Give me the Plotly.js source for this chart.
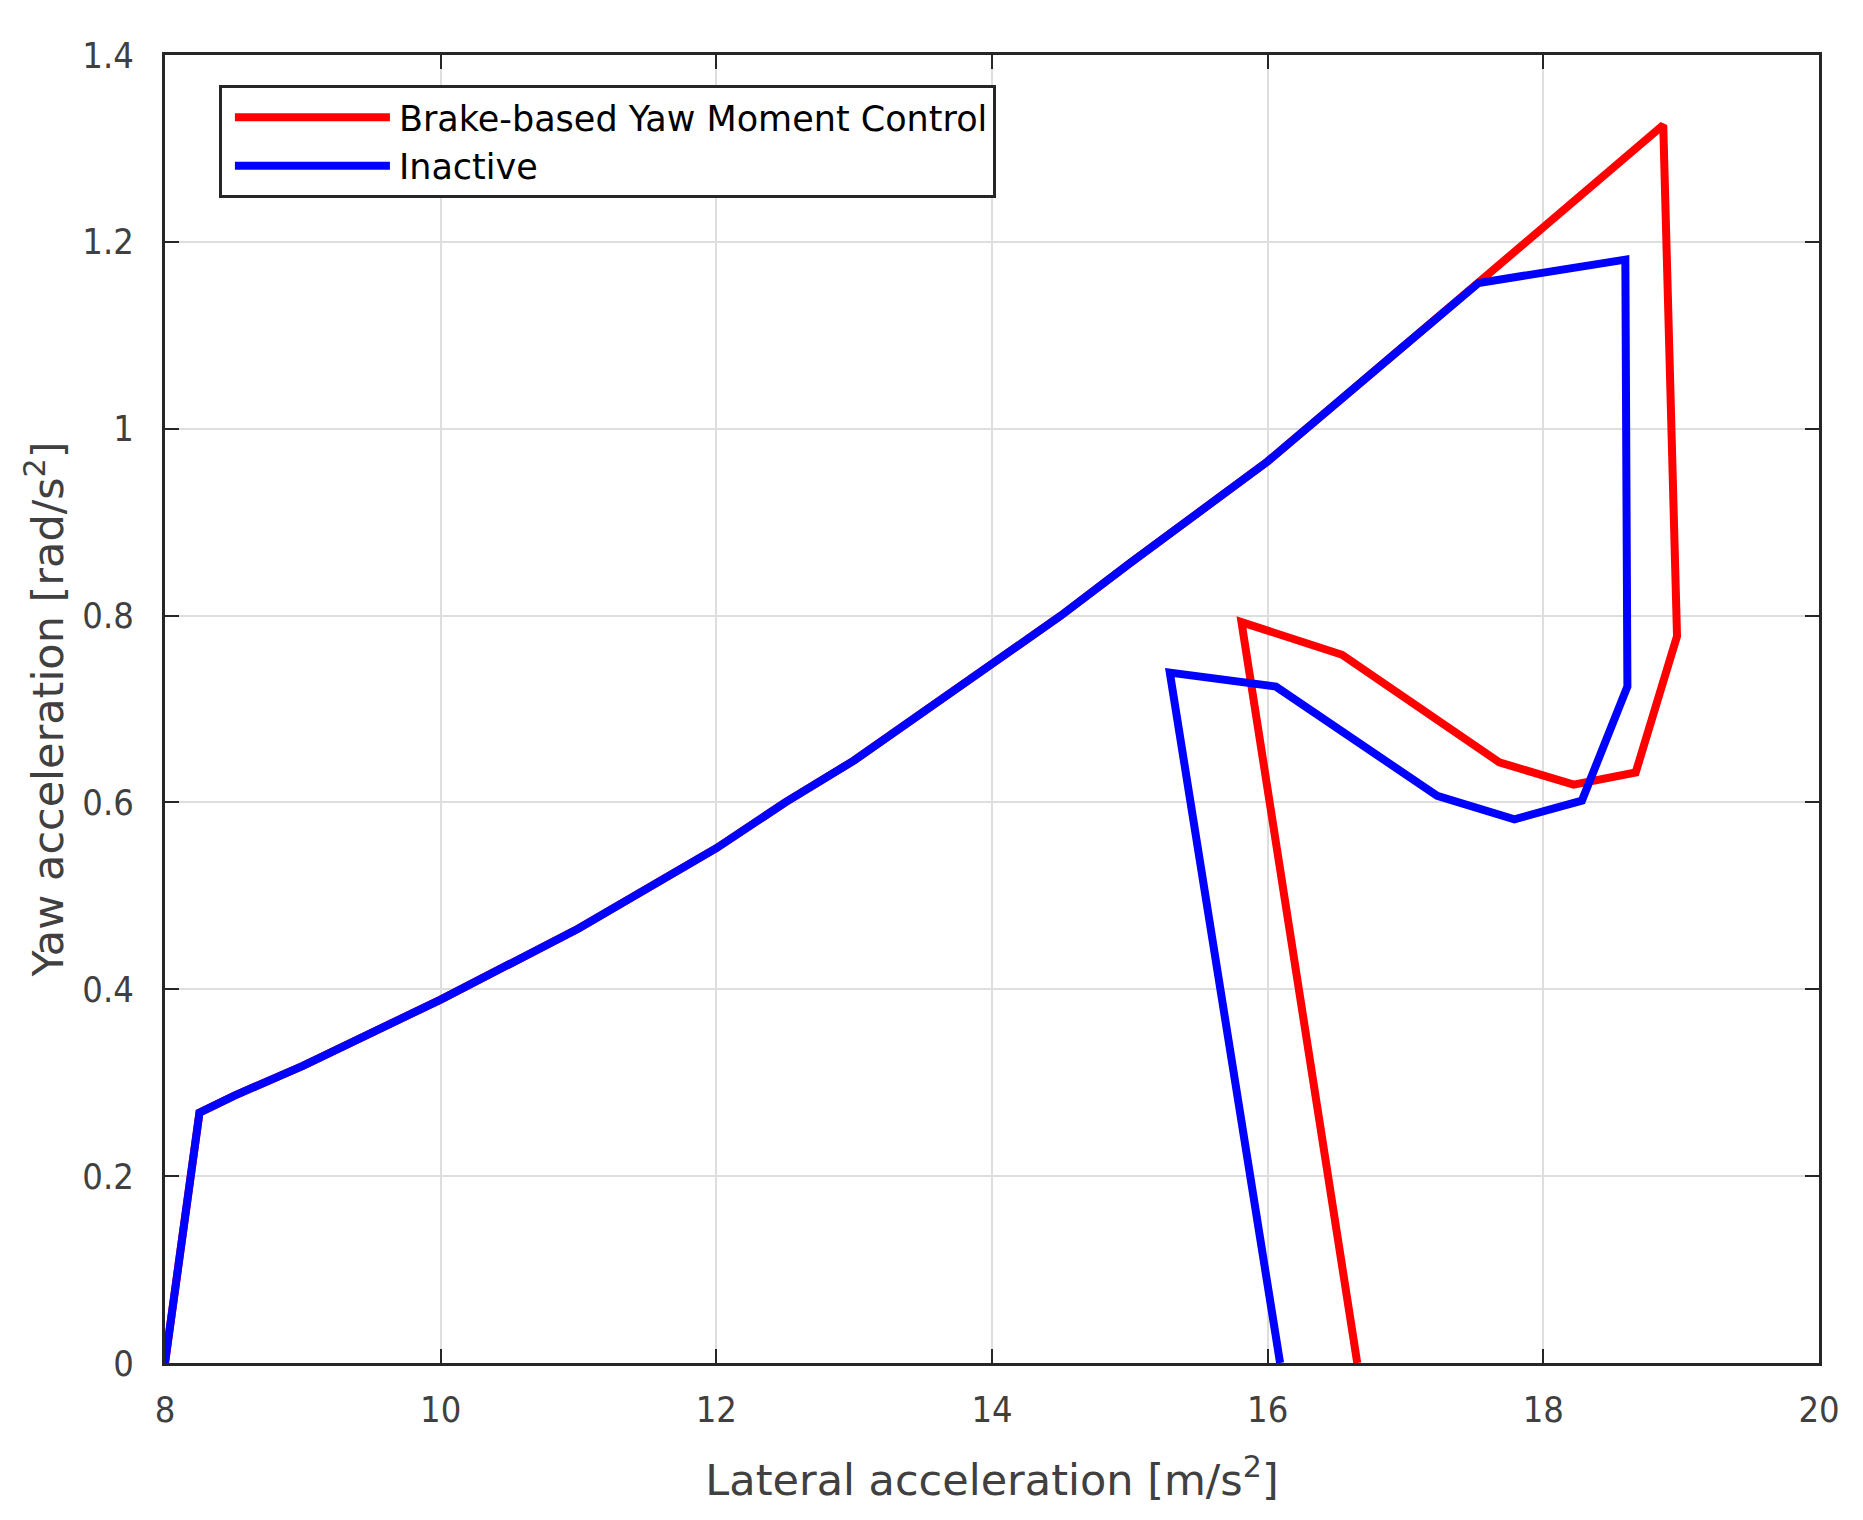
<!DOCTYPE html>
<html>
<head>
<meta charset="utf-8">
<script src="https://cdn.plot.ly/plotly-3.0.1.min.js"></script>
<style>html,body{margin:0;padding:0;background:#fff;}#chart{width:1863px;height:1520px;}</style>
</head>
<body>
<div id="chart"></div>
<script>
// Brake-based Yaw Moment Control (red)
const brakeX = [8.0, 8.25, 8.5, 9.0, 10.0, 11.0, 12.0, 12.5, 13.0, 14.0, 14.5, 15.0, 16.0, 17.0, 17.53, 18.87, 18.97, 18.67, 18.22, 17.68, 16.54, 15.81, 16.65];
const brakeY = [0.0, 0.268, 0.286, 0.318, 0.389, 0.465, 0.551, 0.600, 0.645, 0.748, 0.800, 0.856, 0.965, 1.090, 1.156, 1.325, 0.778, 0.632, 0.619, 0.643, 0.758, 0.793, 0.0];
// Inactive (blue)
const inactiveX = [8.0, 8.25, 8.5, 9.0, 10.0, 11.0, 12.0, 12.5, 13.0, 14.0, 14.5, 15.0, 16.0, 17.0, 17.53, 18.595, 18.61, 18.28, 17.79, 17.23, 16.06, 15.29, 16.09];
const inactiveY = [0.0, 0.268, 0.286, 0.318, 0.389, 0.465, 0.551, 0.600, 0.645, 0.748, 0.800, 0.856, 0.965, 1.090, 1.156, 1.181, 0.724, 0.602, 0.582, 0.607, 0.724, 0.739, 0.0];
const seriesNames = ["Brake-based Yaw Moment Control", "Inactive"];
const xTicks = [8, 10, 12, 14, 16, 18, 20];
const yTicks = [0, 0.2, 0.4, 0.6, 0.8, 1, 1.2, 1.4];
const yTickText = ["0", "0.2", "0.4", "0.6", "0.8", "1", "1.2", "1.4"];

const FONT_NARROW = "'DejaVu Sans Condensed', 'Liberation Sans Narrow', 'DejaVu Sans', sans-serif";
const FONT = "'DejaVu Sans', 'Liberation Sans', sans-serif";
const AX = "#262626";

const traces = [
  {x: brakeX, y: brakeY, name: seriesNames[0], type: "scatter", mode: "lines",
   line: {color: "#ff0000", width: 8, shape: "linear"}},
  {x: inactiveX, y: inactiveY, name: seriesNames[1], type: "scatter", mode: "lines",
   line: {color: "#0000ff", width: 8, shape: "linear"}}
];

const axisCommon = {
  showline: true, linecolor: AX, linewidth: 3, mirror: "ticks",
  ticks: "inside", ticklen: 14, tickwidth: 2, tickcolor: AX,
  showgrid: true, gridcolor: "#dedede", gridwidth: 2,
  zeroline: false,
  tickfont: {family: FONT_NARROW, size: 36, color: "#404040"}
};

const layout = {
  width: 1863, height: 1520,
  paper_bgcolor: "#ffffff", plot_bgcolor: "#ffffff",
  margin: {l: 165, r: 44, t: 55, b: 157, pad: 0},
  showlegend: true,
  legend: {
    x: 0.0326, y: 0.977, xanchor: "left", yanchor: "top",
    bgcolor: "#ffffff", bordercolor: AX, borderwidth: 3,
    font: {family: FONT, size: 35, color: "#000000"},
    itemwidth: 167, tracegroupgap: 0
  },
  xaxis: Object.assign({}, axisCommon, {
    range: [8, 20], tickvals: xTicks, ticktext: xTicks.map(String),
    ticklabelstandoff: 13,
    title: {text: "Lateral acceleration [m/s<sup>2</sup>]", font: {family: FONT, size: 43, color: "#404040"}, standoff: 36}
  }),
  yaxis: Object.assign({}, axisCommon, {
    range: [0, 1.4], tickvals: yTicks, ticktext: yTickText,
    ticklabelstandoff: 21,
    title: {text: "Yaw acceleration [rad/s<sup>2</sup>]", font: {family: FONT, size: 43, color: "#404040"}, standoff: 6}
  })
};

Plotly.newPlot("chart", traces, layout, {displayModeBar: false, staticPlot: true}).then(function (gd) {
  gd.querySelectorAll(".legendlines path").forEach(function (p) {
    p.setAttribute("d", "M13,0h155");
  });
});
</script>
</body>
</html>
